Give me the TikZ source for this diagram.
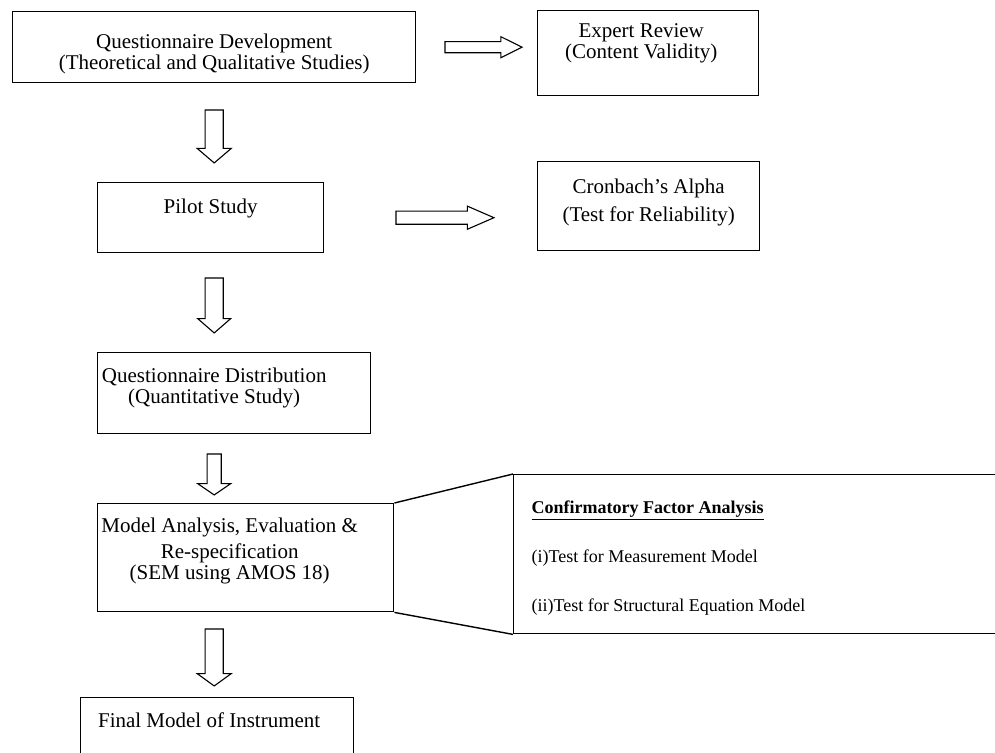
\documentclass[tikz,border=0pt]{standalone}
\usepackage{fontspec}
\setmainfont{Liberation Serif}
\usetikzlibrary{shapes.arrows, positioning}

% top aligned text inside a stage box: height, width, first baseline, right pad, text
\newcommand{\stagetext}[5]{\parbox[c][#1][t]{#2}{\centering\advance\rightskip by #4\relax\rule{0pt}{#3}#5}}

\tikzset{
  stagebox/.style={draw, line width=1.4pt, inner sep=0pt, anchor=north west},
  blockarrow/.style={single arrow, draw, fill=white, line width=1.1pt, inner xsep=0pt},
  downarrow/.style={blockarrow, rotate=-90, anchor=west},
  rightarrow/.style={blockarrow, anchor=west}
}

\begin{document}
\begin{tikzpicture}[x=1pt, y=-1pt, font=\fontsize{21}{21}\selectfont]
        \useasboundingbox (0,0) rectangle (995,752);

        % Stages
        \node[stagebox] (dev) at (12,11)
            {\stagetext{71pt}{403pt}{36.5pt}{0pt}{Questionnaire Development\\(Theoretical and Qualitative Studies)}};
        \node[stagebox] (expert) at (537,10)
            {\stagetext{85pt}{221pt}{27pt}{14pt}{Expert Review\\(Content Validity)}};
        \node[stagebox] (pilot) at (97,182)
            {\stagetext{70pt}{226pt}{31pt}{0pt}{Pilot Study}};
        \node[stagebox] (cron) at (537,161)
            {\stagetext{89pt}{222pt}{32pt}{0pt}{Cronbach's Alpha\\[7pt](Test for Reliability)}};
        \node[stagebox] (qdist) at (97,352)
            {\stagetext{81pt}{273pt}{30pt}{40pt}{Questionnaire Distribution\\(Quantitative Study)}};
        \node[stagebox] (model) at (97,503)
            {\stagetext{108pt}{296pt}{29pt}{32pt}{Model Analysis, Evaluation \&\\[5pt]Re-specification\\(SEM using AMOS 18)}};
        \node[stagebox] (final) at (80,697)
            {\stagetext{80pt}{273pt}{30pt}{16pt}{Final Model of Instrument}};

        % Callout
        \node[stagebox] (cfa) at (513,474)
            {\parbox[c][159pt][t]{500pt}{\raggedright\leftskip=18pt\relax\fontsize{18}{49}\selectfont
             \rule{0pt}{39pt}\underline{\textbf{Confirmatory Factor Analysis}}\\
             (i)Test for Measurement Model\\
             (ii)Test for Structural Equation Model}};
        \draw[line width=1.4pt] (model.north east) -- (cfa.north west);
        \draw[line width=1.4pt] (model.south east) -- (cfa.south west);

        % Down arrows
        \node[downarrow, minimum height=53pt, inner ysep=8.5pt, single arrow head extend=8pt, single arrow tip angle=99]
            (d1) at ([yshift=-26pt]dev.south) {};
        \node[downarrow, minimum height=55pt, inner ysep=8.5pt, single arrow head extend=7.5pt, single arrow tip angle=98]
            (d2) at ([yshift=-24pt]dev.south |- pilot.south) {};
        \node[downarrow, minimum height=41pt, inner ysep=6.5pt, single arrow head extend=9.5pt, single arrow tip angle=111]
            (d3) at ([yshift=-19pt]dev.south |- qdist.south) {};
        \node[downarrow, minimum height=57pt, inner ysep=8.5pt, single arrow head extend=8pt, single arrow tip angle=108]
            (d4) at ([yshift=-16pt]dev.south |- model.south) {};

        % Right arrows
        \node[rightarrow, minimum height=77pt, inner ysep=5pt, single arrow head extend=5pt, single arrow tip angle=53]
            (r1) at ([xshift=28pt]dev.east) {};
        \node[rightarrow, minimum height=98pt, inner ysep=6pt, single arrow head extend=5pt, single arrow tip angle=47]
            (r2) at ([xshift=71pt]pilot.east) {};
\end{tikzpicture}
\end{document}
